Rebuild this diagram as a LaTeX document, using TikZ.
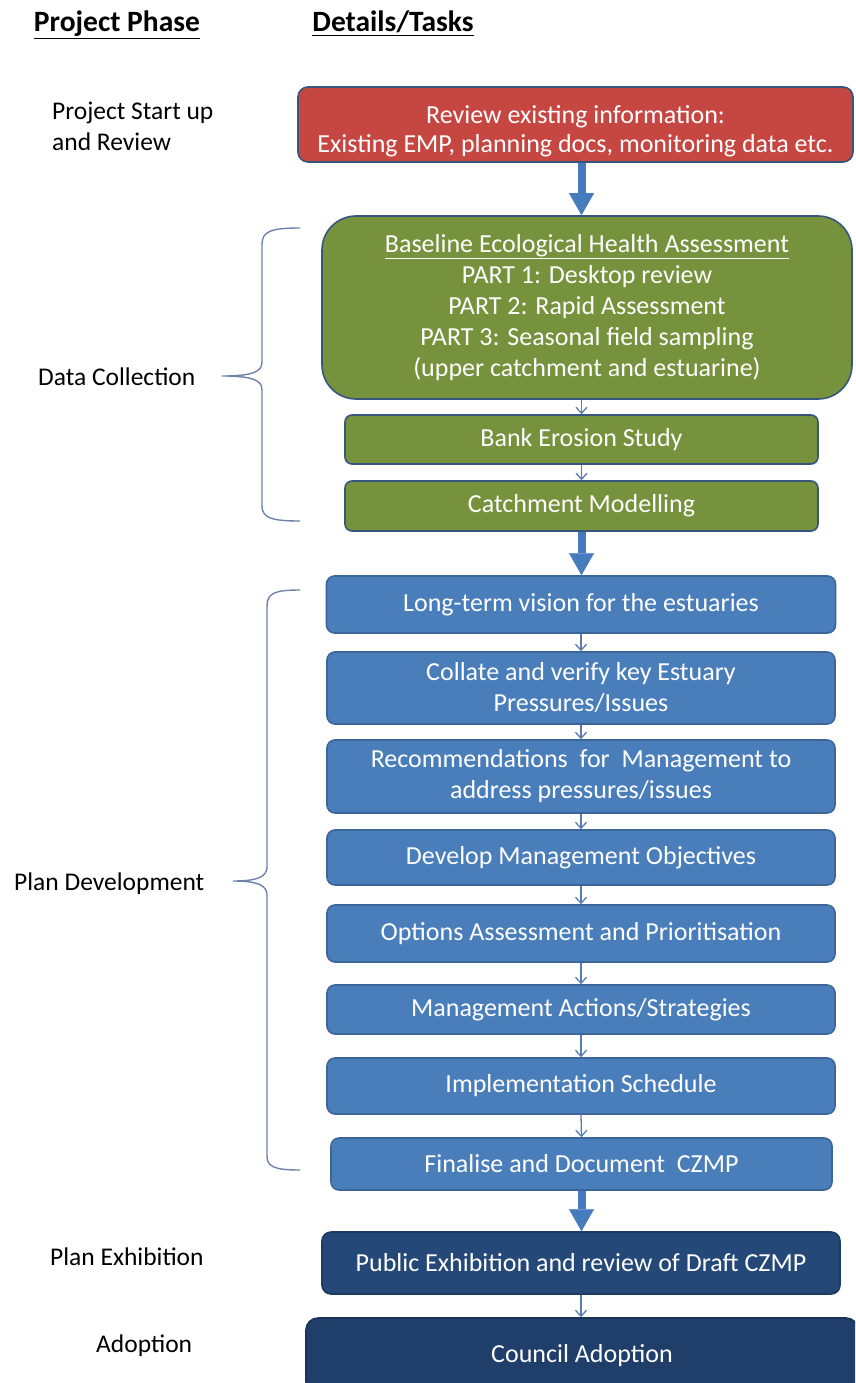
\documentclass[tikz,border=0pt]{standalone}
\usepackage{fontspec}
\setmainfont{Carlito}
\usetikzlibrary{arrows.meta}
\definecolor{redf}{RGB}{198,70,66}
\definecolor{greenf}{RGB}{118,146,60}
\definecolor{bluef}{RGB}{74,126,187}
\definecolor{navyf}{RGB}{36,72,120}
\definecolor{navyg}{RGB}{31,62,106}
\definecolor{edgec}{RGB}{56,86,125}
\definecolor{blueedge}{RGB}{60,102,152}
\definecolor{arrowc}{RGB}{88,124,176}
\definecolor{thickc}{RGB}{70,124,190}
\definecolor{bracec}{RGB}{110,130,170}
\begin{document}
\begin{tikzpicture}[x=1pt,y=-1pt,
  base/.style={rectangle, inner sep=0pt, text=white, align=center,
    font=\fontsize{26}{31}\selectfont, line width=1.6pt},
  redbox/.style={base, fill=redf, draw=edgec, rounded corners=10pt},
  greenbig/.style={base, fill=greenf, draw=edgec, rounded corners=34pt},
  greenbox/.style={base, fill=greenf, draw=edgec, rounded corners=7pt},
  bluebox/.style={base, fill=bluef, draw=blueedge, rounded corners=8pt},
  navybox/.style={base, fill=navyf, draw=navyf!80!black, rounded corners=9pt},
  navybox2/.style={base, fill=navyg, draw=navyg!80!black, rounded corners=12pt},
  thin/.style={draw=arrowc, line width=1.3pt, -{Straight Barb[length=6pt,width=11pt]}},
  thick/.style={draw=thickc, line width=8pt, -{Triangle[length=22pt,width=25pt,line width=0.1pt]}},
  brace/.style={draw=bracec, line width=1.4pt},
  phase/.style={anchor=base west, inner sep=0pt, font=\fontsize{25.5}{31}\selectfont, align=left},
  head/.style={anchor=base, inner sep=0pt, font=\bfseries\fontsize{29.5}{34}\selectfont}]
\useasboundingbox (0,0) rectangle (855,1383);
\clip (0,0) rectangle (855,1383);

% headers
\node[head] (h1) at (117,32) {\underline{Project Phase}};
\node[head] (h2) at (393,32) {\underline{Details/Tasks}};

% phase labels
\node[phase] (p1) at (52,151) {Project Start up\\and Review};
\node[phase] (p2) at (38,385) {Data Collection};
\node[phase] (p3) at (14,890) {Plan Development};
\node[phase] (p4) at (50,1265) {Plan Exhibition};
\node[phase] (p5) at (96,1352) {Adoption};

% boxes
\node[redbox, minimum width=555pt, minimum height=75pt] (r) at (575.5,124.5)
  {\raisebox{-14pt}[0pt][0pt]{\fontsize{26}{29}\selectfont\begin{tabular}{@{}c@{}}Review existing information:\\Existing EMP, planning docs, monitoring data etc.\end{tabular}}};
\node[greenbig, minimum width=530pt, minimum height=183pt] (g) at (587,307.5)
  {\fontsize{26}{31.5}\selectfont\underline{Baseline Ecological Health Assessment}\\PART 1: Desktop review\\PART 2: Rapid Assessment\\PART 3: Seasonal field sampling\\(upper catchment and estuarine)};
\node[greenbox, minimum width=473pt, minimum height=49pt] (b) at (581.5,439.5) {Bank Erosion Study};
\node[greenbox, minimum width=473pt, minimum height=50pt] (c) at (581.5,506) {Catchment Modelling};

\node[bluebox, minimum width=509pt, minimum height=57pt] (l1) at (581,604.5) {Long-term vision for the estuaries};
\node[bluebox, minimum width=508pt, minimum height=72pt] (l2) at (581,688) {Collate and verify key Estuary\\Pressures/Issues};
\node[bluebox, minimum width=508pt, minimum height=73pt] (l3) at (581,776.5) {Recommendations\ \ for\ \ Management to\\address pressures/issues};
\node[bluebox, minimum width=508pt, minimum height=55pt] (l4) at (581,857.5) {Develop Management Objectives};
\node[bluebox, minimum width=508pt, minimum height=57pt] (l5) at (581,933.5) {Options Assessment and Prioritisation};
\node[bluebox, minimum width=508pt, minimum height=49pt] (l6) at (581,1009.5) {Management Actions/Strategies};
\node[bluebox, minimum width=508pt, minimum height=56pt] (l7) at (581,1086) {Implementation Schedule};
\node[bluebox, minimum width=501pt, minimum height=52pt] (l8) at (581.5,1164) {Finalise and Document\ \ CZMP};

\node[navybox, minimum width=518pt, minimum height=62pt] (pe) at (581,1263) {Public Exhibition and review of Draft CZMP};
\node[navybox2, minimum width=552pt, minimum height=76pt] (ca) at (582,1356) {\raisebox{5pt}{Council Adoption}};

% thick arrows
\draw[thick] (r.south -| b.north) -- (g.north -| b.north);
\draw[thick] (c.south) -- (l1.north -| c.south);
\draw[thick] (l8.south) -- (pe.north -| l8.south);

% thin arrows
\draw[thin] (g.south -| b.north) -- (b.north);
\draw[thin] (b.south) -- (c.north);
\draw[thin] (l1.south) -- (l2.north);
\draw[thin] (l2.south) -- (l3.north);
\draw[thin] (l3.south) -- (l4.north);
\draw[thin] (l4.south) -- (l5.north);
\draw[thin] (l5.south) -- (l6.north);
\draw[thin] (l6.south) -- (l7.north);
\draw[thin] (l7.south) -- (l8.north);
\draw[thin] (pe.south) -- (ca.north -| pe.south);

% braces
\coordinate (d1) at (300,228);
\coordinate (dt) at (222,376);
\coordinate (d2) at (300,521);
\draw[brace] (d1) .. controls (272,228) and (262,231) .. (262,244) -- (262,362)
  .. controls (262,372) and (252,376) .. (dt)
  .. controls (252,376) and (262,380) .. (262,390) -- (262,506)
  .. controls (262,518) and (272,521) .. (d2);
\coordinate (e1) at (300,590);
\coordinate (et) at (233,881);
\coordinate (e2) at (300,1170);
\draw[brace] (e1) .. controls (275,590) and (267,593) .. (267,606) -- (267,867)
  .. controls (267,877) and (257,881) .. (et)
  .. controls (257,881) and (267,885) .. (267,895) -- (267,1156)
  .. controls (267,1167) and (275,1170) .. (e2);
\end{tikzpicture}
\end{document}
